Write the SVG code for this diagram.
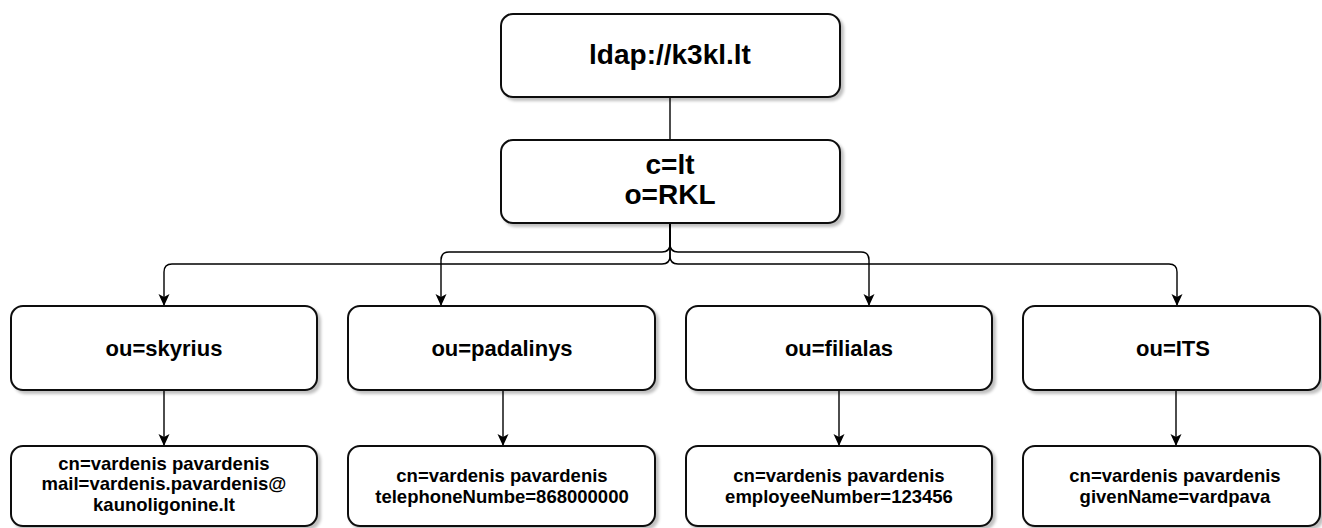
<svg xmlns="http://www.w3.org/2000/svg" width="1322" height="528" viewBox="0 0 1322 528">
  <defs>
    <filter id="shadow" x="-5%" y="-10%" width="115%" height="130%">
      <feGaussianBlur in="SourceAlpha" stdDeviation="1.5"/>
      <feOffset dx="3" dy="3" result="off"/>
      <feComponentTransfer><feFuncA type="linear" slope="0.25"/></feComponentTransfer>
      <feMerge><feMergeNode/><feMergeNode in="SourceGraphic"/></feMerge>
    </filter>
    <marker id="arrow" markerUnits="userSpaceOnUse" markerWidth="14" markerHeight="12" refX="12" refY="6" orient="auto">
      <path d="M0,0.5 L12,6 L0,11.5 L3,6 z" fill="#000"/>
    </marker>
    <style>
      .box { fill: #fff; stroke: #111; stroke-width: 2; filter: url(#shadow); }
      .edge { fill: none; stroke: #000; stroke-width: 1.4; }
      .t { font-family: "Liberation Sans", Arial, sans-serif; font-weight: bold; fill: #000; text-anchor: middle; }
      .big { font-size: 28px; }
      .mid { font-size: 22px; }
      .small { font-size: 18.5px; }
    </style>
  </defs>
  <rect width="1322" height="528" fill="#fff"/>

  <!-- connectors -->
  <g id="connectors">
    <path class="edge" d="M670,97 L670,140"/>
    <path class="edge" marker-end="url(#arrow)" d="M670,223 L670,244 Q670,252 662,252 L449,252 Q441,252 441,260 L441,306"/>
    <path class="edge" marker-end="url(#arrow)" d="M670,223 L670,244 Q670,252 678,252 L861,252 Q869,252 869,260 L869,306"/>
    <path class="edge" marker-end="url(#arrow)" d="M670,223 L670,256 Q670,264 662,264 L172,264 Q164,264 164,272 L164,306"/>
    <path class="edge" marker-end="url(#arrow)" d="M670,223 L670,256 Q670,264 678,264 L1169,264 Q1177,264 1177,272 L1177,306"/>
    <path class="edge" marker-end="url(#arrow)" d="M164,390 L164,446"/>
    <path class="edge" marker-end="url(#arrow)" d="M503,390 L503,446"/>
    <path class="edge" marker-end="url(#arrow)" d="M839,390 L839,446"/>
    <path class="edge" marker-end="url(#arrow)" d="M1176,390 L1176,446"/>
  </g>

  <!-- root -->
  <g id="root">
    <rect class="box" x="501" y="14" width="339" height="83" rx="12"/>
    <text class="t big" x="670" y="64">ldap://k3kl.lt</text>
  </g>

  <g id="org">
    <rect class="box" x="501" y="140" width="339" height="83" rx="12"/>
    <text class="t big" x="670" y="174">c=lt</text>
    <text class="t big" x="670" y="204">o=RKL</text>
  </g>

  <!-- organizational units -->
  <g id="ou-skyrius">
    <rect class="box" x="11" y="306" width="306" height="84" rx="12"/>
    <text class="t mid" x="164" y="356">ou=skyrius</text>
  </g>
  <g id="ou-padalinys">
    <rect class="box" x="348" y="306" width="307" height="84" rx="12"/>
    <text class="t mid" x="502" y="356">ou=padalinys</text>
  </g>
  <g id="ou-filialas">
    <rect class="box" x="686" y="306" width="306" height="84" rx="12"/>
    <text class="t mid" x="839" y="356">ou=filialas</text>
  </g>
  <g id="ou-its">
    <rect class="box" x="1023" y="306" width="297" height="84" rx="12"/>
    <text class="t mid" x="1173" y="356">ou=ITS</text>
  </g>

  <!-- entries -->
  <g id="cn-skyrius">
    <rect class="box" x="11" y="446" width="306" height="80" rx="12"/>
    <text class="t small" x="164" y="470">cn=vardenis pavardenis</text>
    <text class="t small" x="164" y="490">mail=vardenis.pavardenis@</text>
    <text class="t small" x="164" y="511">kaunoligonine.lt</text>
  </g>
  <g id="cn-padalinys">
    <rect class="box" x="348" y="446" width="307" height="80" rx="12"/>
    <text class="t small" x="502" y="482">cn=vardenis pavardenis</text>
    <text class="t small" x="502" y="503">telephoneNumbe=868000000</text>
  </g>
  <g id="cn-filialas">
    <rect class="box" x="686" y="446" width="306" height="80" rx="12"/>
    <text class="t small" x="839" y="482">cn=vardenis pavardenis</text>
    <text class="t small" x="839" y="503">employeeNumber=123456</text>
  </g>
  <g id="cn-its">
    <rect class="box" x="1023" y="446" width="297" height="80" rx="12"/>
    <text class="t small" x="1175" y="482">cn=vardenis pavardenis</text>
    <text class="t small" x="1175" y="503">givenName=vardpava</text>
  </g>
</svg>
